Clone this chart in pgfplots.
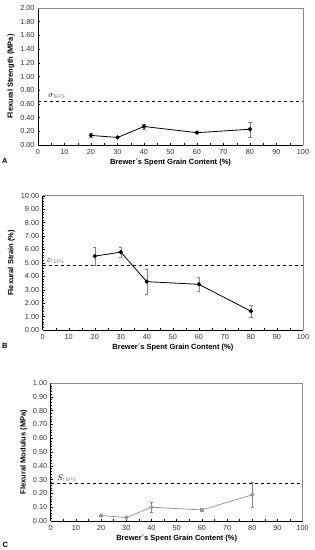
\documentclass[border=0pt]{standalone}
\usepackage{pgfplots}
\pgfplotsset{compat=1.18}
\usepackage{fontspec}
\setmainfont{Liberation Sans}
\definecolor{fr}{RGB}{140,140,140}
\definecolor{eb}{RGB}{130,130,130}
\definecolor{cg}{RGB}{150,150,150}
\pgfplotsset{
  myax/.style={
    scale only axis,
    anchor=south west,
    xmin=0, xmax=100,
    xtick={0,10,...,100},
    minor x tick num=1,
    tick align=inside,
    major tick length=2pt,
    minor tick length=1.5pt,
    axis x line*=bottom,
    axis y line*=left,
    axis line style={black, line width=0.6pt},
    tick style={black, line width=0.4pt},
    ticklabel style={font=\fontsize{7.3}{8}\selectfont, text=black!80},
    label style={font=\fontsize{7.5}{8.5}\selectfont\bfseries},
    /pgf/number format/assume math mode=true,
    yticklabel style={/pgf/number format/.cd, fixed, fixed zerofill, precision=2},
    xticklabel style={yshift=-1pt},
    xlabel={Brewer\textasciiacute s Spent Grain Content (\%)},
    xlabel style={yshift=3pt},
    ylabel style={yshift=-1pt},
    clip=false,
  },
}
\begin{document}
\begin{tikzpicture}
\useasboundingbox (0pt,0pt) rectangle (314pt,550pt);
% Panel A
\begin{axis}[myax, at={(38pt,405pt)}, width=265pt, height=137pt,
  ymin=0, ymax=2, ytick={0,0.2,...,2.01}, minor y tick num=4,
  ylabel={Flexural Strength (MPa)}]
\draw[fr, line width=0.8pt] (rel axis cs:0,1) -- (rel axis cs:1,1) -- (rel axis cs:1,0);
\addplot[black, dashed, line width=0.6pt] coordinates {(0,0.64) (100,0.64)};
\addplot[black, line width=0.8pt, mark=*, mark size=1.7pt,
  error bars/.cd, y dir=both, y explicit,
  error bar style={eb, line width=0.5pt}, error mark options={eb, rotate=90, mark size=1.6pt}]
  coordinates {(20,0.14) +- (0,0.025) (30,0.11) +- (0,0.01) (40,0.27) +- (0,0.04) (60,0.18) +- (0,0.015) (80,0.23) +- (0,0.11)};
\node[anchor=south west, inner sep=1pt, font=\fontsize{8}{9}\selectfont] at (axis cs:3.5,0.66) {$\sigma$\textsubscript{\textcolor{gray}{\fontsize{5}{6}\selectfont fEPS}}};
\node[anchor=center, font=\fontsize{7.5}{8.5}\selectfont\bfseries] at (axis cs:-12.5,-0.23) {A};
\end{axis}
% Panel B
\begin{axis}[myax, at={(42.7pt,220pt)}, width=260.3pt, height=134.3pt,
  ymin=0, ymax=10, ytick={0,1,...,10}, minor y tick num=4,
  ylabel={Flexural Strain (\%)}]
\draw[fr, line width=0.8pt] (rel axis cs:0,1) -- (rel axis cs:1,1) -- (rel axis cs:1,0);
\addplot[black, dashed, line width=0.6pt] coordinates {(0,4.8) (100,4.8)};
\addplot[black, line width=0.8pt, mark=*, mark size=1.7pt,
  error bars/.cd, y dir=both, y explicit,
  error bar style={eb, line width=0.5pt}, error mark options={eb, rotate=90, mark size=1.6pt}]
  coordinates {(20,5.5) +- (0,0.7) (30,5.8) +- (0,0.35) (40,3.6) +- (0,0.9) (60,3.4) +- (0,0.5) (80,1.4) +- (0,0.45)};
\node[anchor=south west, inner sep=1pt, font=\fontsize{8}{9}\selectfont] at (axis cs:1.2,4.85) {$\varepsilon$\textsubscript{\textcolor{gray}{\fontsize{5}{6}\selectfont f EPS}}};
\node[anchor=center, font=\fontsize{7.5}{8.5}\selectfont\bfseries] at (axis cs:-14.5,-1.15) {B};
\end{axis}
% Panel C
\begin{axis}[myax, at={(50.7pt,29pt)}, width=252pt, height=138pt,
  ymin=0, ymax=1, ytick={0,0.1,...,1.01}, minor y tick num=4,
  ylabel={Flexural Modulus (MPa)}]
\draw[fr, line width=0.8pt] (rel axis cs:0,1) -- (rel axis cs:1,1) -- (rel axis cs:1,0);
\addplot[black, dashed, line width=0.6pt] coordinates {(0,0.275) (100,0.275)};
\addplot[cg, line width=0.8pt, mark=*, mark size=1.7pt, mark options={fill=cg, draw=cg},
  error bars/.cd, y dir=both, y explicit,
  error bar style={eb, line width=0.5pt}, error mark options={eb, rotate=90, mark size=1.6pt}]
  coordinates {(20,0.04) +- (0,0.005) (30,0.025) +- (0,0.005) (40,0.10) +- (0,0.035) (60,0.08) +- (0,0.01) (80,0.19) +- (0,0.09)};
\node[anchor=south west, inner sep=1pt, font=\fontsize{8}{9}\selectfont] at (axis cs:2.2,0.28) {$S$\textsubscript{\textcolor{gray}{\fontsize{5}{6}\selectfont f EPS}}};
\node[anchor=center, font=\fontsize{7.5}{8.5}\selectfont\bfseries] at (axis cs:-18,-0.17) {C};
\end{axis}
\end{tikzpicture}
\end{document}
